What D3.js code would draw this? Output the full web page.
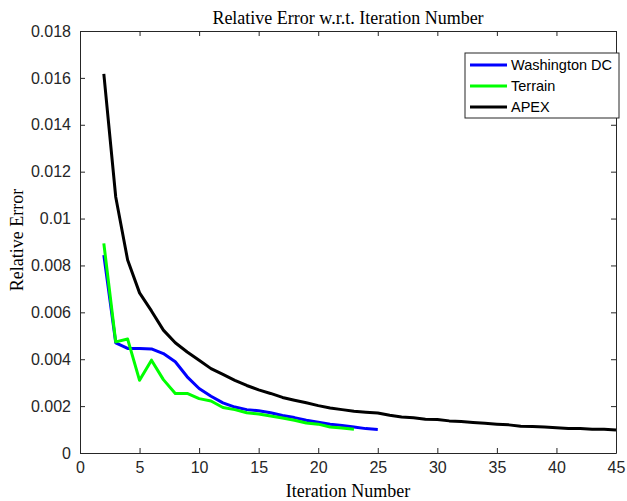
<!DOCTYPE html>
<html>
<head>
<meta charset="utf-8">
<script src="https://cdn.jsdelivr.net/npm/d3@7"></script>
<style>
body { margin: 0; background: #fff; }
.tick text { font-family: "Liberation Sans", Arial, sans-serif; font-size: 16px; fill: #262626; }
.axis path, .axis line { stroke: #262626; }
</style>
</head>
<body>
<svg width="627" height="501"></svg>
<script>
// iteration numbers
var apexIter = d3.range(2, 46);
var dcIter = d3.range(2, 26);
var terrainIter = d3.range(2, 24);

// relative error per iteration
var apexErr = [0.01617, 0.01092, 0.00823, 0.00683, 0.00606, 0.00524, 0.0047, 0.00431, 0.00396,
	0.0036, 0.00335, 0.0031, 0.00288, 0.00269, 0.00254, 0.00237, 0.00225, 0.00214, 0.00202,
	0.00192, 0.00185, 0.00178, 0.00174, 0.00171, 0.00161, 0.00154, 0.0015, 0.00144, 0.00143,
	0.00137, 0.00134, 0.0013, 0.00127, 0.00123, 0.0012, 0.00114, 0.00113, 0.00111, 0.00108,
	0.00105, 0.00104, 0.00101, 0.00101, 0.00098];
var dcErr = [0.00844, 0.0047, 0.00446, 0.00446, 0.00444, 0.00424, 0.00389, 0.00325, 0.00275,
	0.00242, 0.00214, 0.00196, 0.00185, 0.0018, 0.00172, 0.0016, 0.00151, 0.0014, 0.00131,
	0.00123, 0.00117, 0.00111, 0.00104, 0.001];
var terrainErr = [0.00894, 0.00474, 0.00486, 0.0031, 0.00396, 0.00313, 0.00254, 0.00254, 0.00232,
	0.00222, 0.00194, 0.00185, 0.00172, 0.00166, 0.00158, 0.00149, 0.0014, 0.00128, 0.00123,
	0.00111, 0.00107, 0.00101];

var xTicks = [0, 5, 10, 15, 20, 25, 30, 35, 40, 45];
var yTicks = [0, 0.002, 0.004, 0.006, 0.008, 0.01, 0.012, 0.014, 0.016, 0.018];

var series = [
	{name: 'Washington DC', color: '#0000ff', x: dcIter, y: dcErr},
	{name: 'Terrain', color: '#00ff00', x: terrainIter, y: terrainErr},
	{name: 'APEX', color: '#000000', x: apexIter, y: apexErr}
];

var svg = d3.select('svg');
var plotL = 80, plotR = 616, plotT = 31, plotB = 453;

var xScale = d3.scaleLinear().domain([0, 45]).range([plotL, plotR]);
var yScale = d3.scaleLinear().domain([0, 0.018]).range([plotB, plotT]);

var fmt = d => d === 0 ? '0' : String(+d.toFixed(3));

// axes, ticks pointing inward
svg.append('g').attr('class', 'axis').attr('transform', 'translate(0,' + plotB + ')')
	.call(d3.axisBottom(xScale).tickValues(xTicks).tickSizeInner(-5).tickSizeOuter(0).tickPadding(9))
svg.append('g').attr('class', 'axis').attr('transform', 'translate(0,' + plotT + ')')
	.call(d3.axisTop(xScale).tickValues(xTicks).tickSizeInner(-5).tickSizeOuter(0).tickFormat(''))
svg.append('g').attr('class', 'axis').attr('transform', 'translate(' + plotL + ',0)')
	.call(d3.axisLeft(yScale).tickValues(yTicks).tickFormat(fmt).tickSizeInner(-5).tickSizeOuter(0).tickPadding(9))
svg.append('g').attr('class', 'axis').attr('transform', 'translate(' + plotR + ',0)')
	.call(d3.axisRight(yScale).tickValues(yTicks).tickSizeInner(-5).tickSizeOuter(0).tickFormat(''))

svg.selectAll('.axis path').attr('stroke-width', 1);

// lines
var line = d3.line().x(d => xScale(d[0])).y(d => yScale(d[1]));
svg.append('g').selectAll('path')
	.data(series)
	.enter().append('path')
	.attr('d', s => line(s.x.map((v, i) => [v, s.y[i]])))
	.attr('fill', 'none')
	.attr('stroke', s => s.color)
	.attr('stroke-width', 3)
	.attr('stroke-linejoin', 'round');

// title and labels
var serif = '"Liberation Serif", "Times New Roman", serif';
svg.append('text').attr('x', (plotL + plotR) / 2).attr('y', 24)
	.attr('text-anchor', 'middle')
	.style('font-family', serif).style('font-size', '18px')
	.text('Relative Error w.r.t. Iteration Number');
svg.append('text').attr('x', (plotL + plotR) / 2).attr('y', 497)
	.attr('text-anchor', 'middle')
	.style('font-family', serif).style('font-size', '18px')
	.text('Iteration Number');
svg.append('text').attr('transform', 'translate(23,240) rotate(-90)')
	.attr('text-anchor', 'middle')
	.style('font-family', serif).style('font-size', '18px')
	.text('Relative Error');

// legend
var legend = svg.append('g').attr('transform', 'translate(465,53)');
legend.append('rect').attr('width', 154).attr('height', 65)
	.attr('fill', '#fff').attr('stroke', '#262626').attr('stroke-width', 1);
var items = legend.selectAll('.item').data(series).enter().append('g')
	.attr('transform', (d, i) => 'translate(0,' + (12 + i * 21) + ')');
items.append('line').attr('x1', 5).attr('x2', 42)
	.attr('stroke', d => d.color).attr('stroke-width', 3);
items.append('text').attr('x', 46).attr('dy', '0.35em')
	.style('font-family', '"Liberation Sans", Arial, sans-serif').style('font-size', '14.5px')
	.text(d => d.name);
</script>
</body>
</html>
